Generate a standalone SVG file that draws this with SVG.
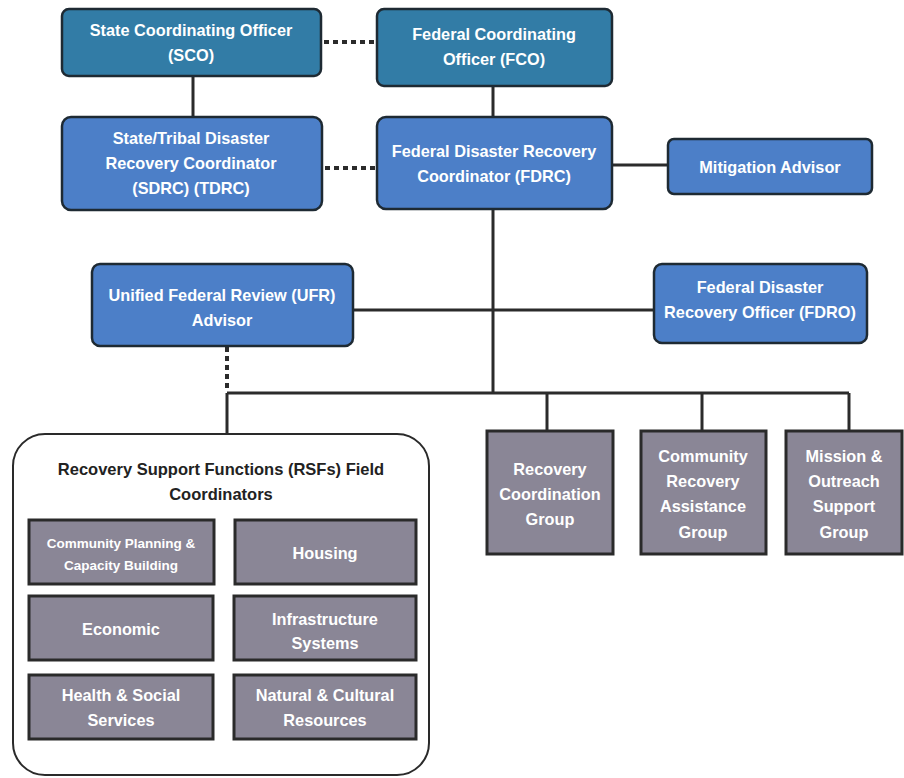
<svg xmlns="http://www.w3.org/2000/svg" width="904" height="778" viewBox="0 0 904 778">
<style>
.bg{fill:#ffffff}
.teal{fill:#327ca6;stroke:#1e2a33;stroke-width:2.5}
.blue{fill:#4c7fc8;stroke:#1e2a33;stroke-width:2.5}
.gray{fill:#8a8696;stroke:#2a2a2a;stroke-width:3}
.cont{fill:#ffffff;stroke:#2a2a2a;stroke-width:2}
.t{font-family:"Liberation Sans",Arial,sans-serif;font-weight:bold;font-size:16.3px;fill:#ffffff;text-anchor:middle}
.ts{font-size:13.5px}
.tb{fill:#222222;font-size:16.5px}
.solid{stroke:#2b2b2b;stroke-width:3;fill:none}
.dot{stroke:#2b2b2b;stroke-width:4;fill:none;stroke-dasharray:5 4}
</style>
<rect class="bg" x="0" y="0" width="904" height="778"/>
<g id="connectors">
<path class="dot" d="M324 42 H377"/>
<path class="solid" d="M193 76 V117"/>
<path class="solid" d="M493 86 V117"/>
<path class="dot" d="M325 168 H377"/>
<path class="solid" d="M612 165 H668"/>
<path class="solid" d="M493 209 V393"/>
<path class="solid" d="M353 310 H654"/>
<path class="dot" d="M227 347 V392"/>
<path class="solid" d="M227 393 H849"/>
<path class="solid" d="M227 393 V434"/>
<path class="solid" d="M547 393 V431"/>
<path class="solid" d="M702 393 V431"/>
<path class="solid" d="M849 393 V431"/>
</g>
<g id="sco"><rect class="teal" x="62" y="9" width="259" height="67" rx="7"/>
<text class="t" x="191" y="36">State Coordinating Officer</text><text class="t" x="191" y="61">(SCO)</text></g>
<g id="fco"><rect class="teal" x="377" y="9" width="235" height="77" rx="7"/>
<text class="t" x="494" y="40">Federal Coordinating</text><text class="t" x="494" y="65">Officer (FCO)</text></g>
<g id="sdrc"><rect class="blue" x="62" y="117" width="260" height="93" rx="9"/>
<text class="t" x="191" y="144">State/Tribal Disaster</text><text class="t" x="191" y="169">Recovery Coordinator</text><text class="t" x="191" y="194">(SDRC) (TDRC)</text></g>
<g id="fdrc"><rect class="blue" x="377" y="117" width="235" height="92" rx="9"/>
<text class="t" x="494" y="157">Federal Disaster Recovery</text><text class="t" x="494" y="182">Coordinator (FDRC)</text></g>
<g id="mitigation"><rect class="blue" x="668" y="139" width="204" height="55" rx="6"/>
<text class="t" x="770" y="173">Mitigation Advisor</text></g>
<g id="ufr"><rect class="blue" x="92" y="264" width="261" height="82" rx="8"/>
<text class="t" x="222" y="301">Unified Federal Review (UFR)</text><text class="t" x="222" y="326">Advisor</text></g>
<g id="fdro"><rect class="blue" x="654" y="264" width="213" height="79" rx="8"/>
<text class="t" x="760" y="293">Federal Disaster</text><text class="t" x="760" y="318">Recovery Officer (FDRO)</text></g>
<g id="rcg"><rect class="gray" x="487" y="431" width="126" height="123"/>
<text class="t" x="550" y="475">Recovery</text><text class="t" x="550" y="500">Coordination</text><text class="t" x="550" y="525">Group</text></g>
<g id="crag"><rect class="gray" x="641" y="431" width="125" height="123"/>
<text class="t" x="703" y="462">Community</text><text class="t" x="703" y="487">Recovery</text><text class="t" x="703" y="512">Assistance</text><text class="t" x="703" y="538">Group</text></g>
<g id="mosg"><rect class="gray" x="786" y="431" width="116" height="123"/>
<text class="t" x="844" y="462">Mission &amp;</text><text class="t" x="844" y="487">Outreach</text><text class="t" x="844" y="512">Support</text><text class="t" x="844" y="538">Group</text></g>
<g id="rsf"><rect class="cont" x="13" y="434" width="416" height="341" rx="32"/>
<text class="t tb" x="221" y="475">Recovery Support Functions (RSFs) Field</text><text class="t tb" x="221" y="500">Coordinators</text></g>
<g id="cpcb"><rect class="gray" x="29" y="520" width="185" height="64"/>
<text class="t ts" x="121" y="548">Community Planning &amp;</text><text class="t ts" x="121" y="570">Capacity Building</text></g>
<g id="housing"><rect class="gray" x="235" y="520" width="181" height="64"/>
<text class="t" x="325" y="559">Housing</text></g>
<g id="economic"><rect class="gray" x="29" y="596" width="184" height="64"/>
<text class="t" x="121" y="635">Economic</text></g>
<g id="infra"><rect class="gray" x="234" y="596" width="182" height="64"/>
<text class="t" x="325" y="625">Infrastructure</text><text class="t" x="325" y="649">Systems</text></g>
<g id="health"><rect class="gray" x="29" y="675" width="184" height="64"/>
<text class="t" x="121" y="701">Health &amp; Social</text><text class="t" x="121" y="726">Services</text></g>
<g id="natural"><rect class="gray" x="234" y="675" width="182" height="64"/>
<text class="t" x="325" y="701">Natural &amp; Cultural</text><text class="t" x="325" y="726">Resources</text></g>
</svg>
